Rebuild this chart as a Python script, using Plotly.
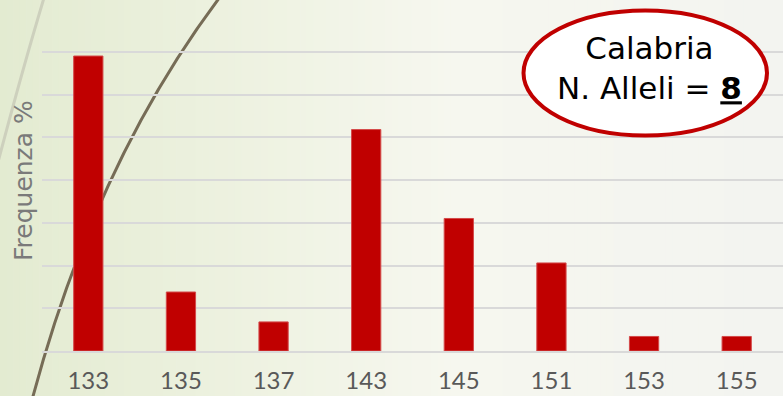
import plotly.graph_objects as go

alleles = ["133", "135", "137", "143", "145", "151", "153", "155"]
freq = [34.5, 6.9, 3.4, 25.9, 15.5, 10.3, 1.7, 1.7]
region = "Calabria"
n_alleles = 8

W, H = 783, 396
ML, MR, MT, MB = 42, 0, 9, 45
PW, PH = W - ML - MR, H - MT - MB


def px(x):
    return (x - ML) / PW


def py(y):
    return (H - MB - y) / PH


def lerp(c1, c2, t):
    return tuple(round(a + (b - a) * t) for a, b in zip(c1, c2))


stops = [(0, (227, 235, 209)), (250, (238, 242, 225)), (450, (246, 247, 239)), (783, (243, 244, 240))]


def grad(x):
    for (x0, c0), (x1, c1) in zip(stops, stops[1:]):
        if x <= x1:
            return lerp(c0, c1, (x - x0) / (x1 - x0))
    return stops[-1][1]


shapes = []
N = 120
for i in range(N):
    xa = W * i / N
    xb = W * (i + 1) / N + 0.6
    c = grad((xa + xb) / 2)
    shapes.append(dict(type="rect", xref="paper", yref="paper",
                       x0=px(xa), x1=px(xb), y0=py(H), y1=py(0),
                       fillcolor="rgb(%d,%d,%d)" % c, line_width=0, layer="below"))


def P(x, y):
    return "%f,%f" % (px(x), py(y))

# decorative arcs
shapes.append(dict(type="path", xref="paper", yref="paper", layer="below",
                   path="M %s Q %s %s" % (P(47, -12), P(22, 70), P(-8, 185)),
                   line=dict(color="#cdd0bd", width=3)))
shapes.append(dict(type="path", xref="paper", yref="paper", layer="below",
                   path="M %s Q %s %s" % (P(32, 400), P(95, 163), P(220, -3)),
                   line=dict(color="#766c56", width=3)))

# ellipse
shapes.append(dict(type="circle", xref="paper", yref="paper", layer="above",
                   x0=px(523.5), x1=px(767), y0=py(135.5), y1=py(10.5),
                   fillcolor="white", line=dict(color="#c00000", width=4)))

fig = go.Figure(go.Bar(
    x=alleles, y=freq,
    marker=dict(color="#c00000", line=dict(color="#d44a4a", width=1)),
))

fig.update_layout(
    width=W, height=H,
    margin=dict(l=ML, r=MR, t=MT, b=MB, pad=0, autoexpand=False),
    paper_bgcolor="#f2f4ea",
    plot_bgcolor="rgba(0,0,0,0)",
    bargap=0.684,
    showlegend=False,
    shapes=shapes,
    font=dict(family="Lato", color="#595959"),
    xaxis=dict(type="category", showgrid=False, showline=True, linecolor="#d9d9d9", linewidth=1.5,
               automargin=False,
               ticks="", tickfont=dict(size=24, color="#595959"), ticklabelstandoff=7),
    yaxis=dict(range=[0, 40], dtick=5, showgrid=True, gridcolor="#d9d9d9", gridwidth=1.5,
               automargin=False,
               zeroline=False, showticklabels=False, ticks=""),
    annotations=[
        dict(xref="paper", yref="paper", x=px(23), y=py(181), text="Frequenza %",
             textangle=-90, showarrow=False, xanchor="center", yanchor="middle",
             font=dict(size=25, color="#7a7a7a", family="DejaVu Sans")),
        dict(xref="paper", yref="paper", x=px(649), y=py(68),
             text="%s<br>N. Alleli = <b><u>%d</u></b>" % (region, n_alleles),
             showarrow=False, xanchor="center", yanchor="middle", align="center",
             font=dict(size=31, color="black", family="DejaVu Sans")),
    ],
)

fig.write_html("out.html")
